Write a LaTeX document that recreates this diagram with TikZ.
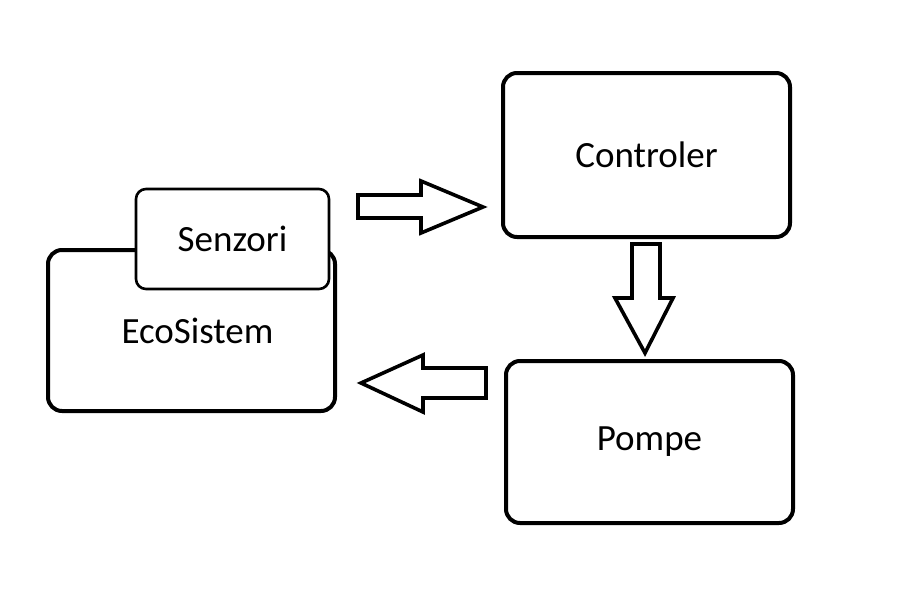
\documentclass[tikz,border=0pt]{standalone}
\usepackage{fontspec}
\setmainfont{Carlito}
\begin{document}
\begin{tikzpicture}[x=1pt,y=-1pt,
  box/.style={draw=black, fill=white, rounded corners=14pt, line width=4pt, inner sep=0pt, outer sep=0pt, font=\fontsize{37}{40}\selectfont},
  smallbox/.style={box, rounded corners=10pt, line width=2.6pt},
  blockarrow/.style={draw=black, fill=white, line width=3.6pt, line join=miter}]
\useasboundingbox (0,0) rectangle (900,600);
\node[box, minimum width=287pt, minimum height=161pt] (eco) at (191.5,330.5) {\hspace*{12pt}\raisebox{-2pt}{EcoSistem}};
\node[smallbox, minimum width=193pt, minimum height=100pt] (sen) at (232.5,239) {Senzori};
\node[box, minimum width=287pt, minimum height=164pt] (ctl) at (646.5,155) {\raisebox{-3pt}{Controler}};
\node[box, minimum width=287pt, minimum height=162pt] (pmp) at (649.5,442) {Pompe};
% right arrow
\draw[blockarrow] (358,195) -- (421,195) -- (421,181) -- (483,207) -- (421,233) -- (421,218) -- (358,218) -- cycle;
% down arrow
\draw[blockarrow] (632,244) -- (660,244) -- (660,298) -- (673,298) -- (645,353) -- (615,298) -- (632,298) -- cycle;
% left arrow
\draw[blockarrow] (486,368) -- (423,368) -- (423,355) -- (361,383) -- (423,412) -- (423,398) -- (486,398) -- cycle;
\end{tikzpicture}
\end{document}
